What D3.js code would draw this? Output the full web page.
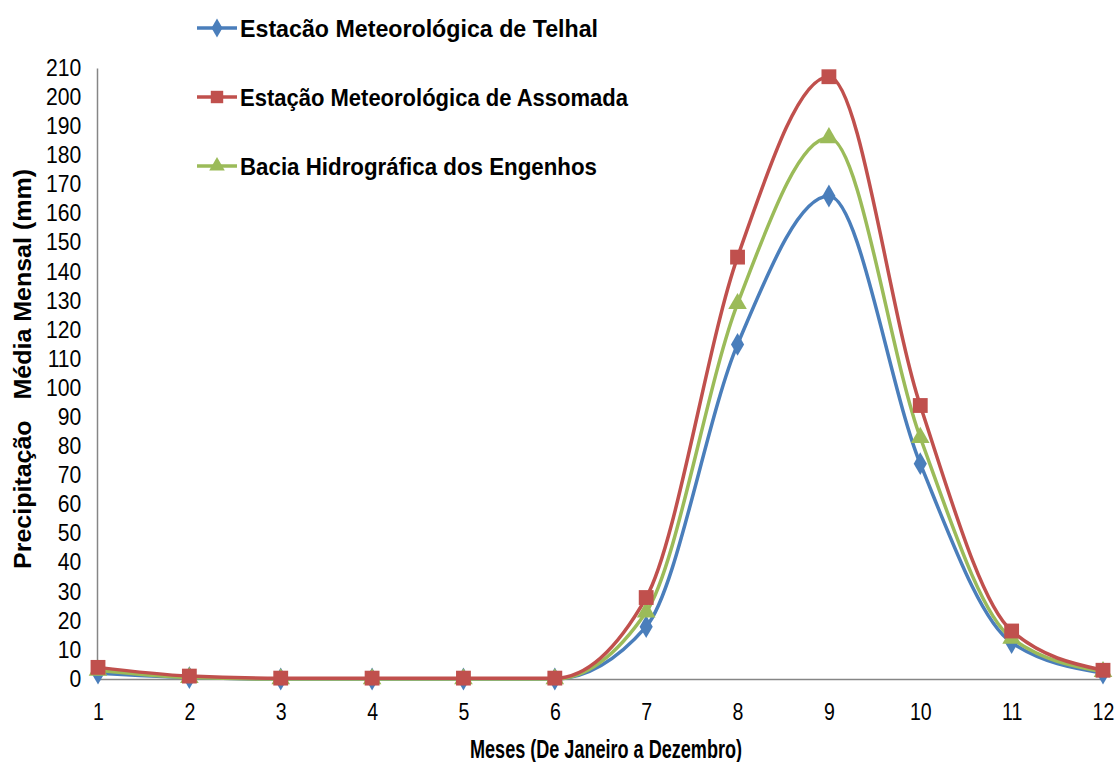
<!DOCTYPE html>
<html>
<head>
<meta charset="utf-8">
<script src="https://cdn.jsdelivr.net/npm/d3@7"></script>
<style>
  body { margin: 0; background: #fff; }
  text { font-family: "Liberation Sans", Arial, sans-serif; fill: #000; }
</style>
</head>
<body>
<div id="chart"></div>
<script>
// months 1..12
const months = [1, 2, 3, 4, 5, 6, 7, 8, 9, 10, 11, 12];

// monthly average precipitation (mm)
const telhal   = [2, 0.5, 0, 0, 0, 0, 18, 115, 166, 74, 12.5, 2];
const assomada = [4, 1, 0.3, 0.3, 0.3, 0.3, 28, 145, 207, 94, 16.5, 3];
const bacia    = [3, 0.5, 0, 0, 0, 0, 23, 129, 186, 83, 14, 2.5];

const seriesNames = [
    "Estacão Meteorológica de Telhal",
    "Estação Meteorológica de Assomada",
    "Bacia Hidrográfica dos Engenhos"
];
const seriesColors = ["#4A7EBB", "#C0504D", "#9BBB59"];
const yTicks = d3.range(0, 211, 10);

const xTitle = "Meses (De Janeiro a Dezembro)";
const yTitle = "Precipitação   Média Mensal (mm)";

const width = 1116, height = 762;

let svg = d3.select("#chart").append("svg")
    .attr("width", width)
    .attr("height", height);

let x = d3.scaleLinear()
    .domain([1, 12])
    .range([98, 1103]);

let y = d3.scaleLinear()
    .domain([0, 210])
    .range([679, 68]);

// axes
let yAxis = svg.append("g")
    .attr("transform", `translate(${x(1) - 1},0)`)
    .call(d3.axisLeft(y).tickValues(yTicks).tickSize(0).tickPadding(17));
yAxis.select(".domain").attr("stroke", "#868686").attr("stroke-width", 1.5);
yAxis.selectAll("text").style("font-size", "23px").attr("font-family", null)
    .attr("transform", "scale(0.92,1)");

let xAxis = svg.append("g")
    .attr("transform", `translate(0,${y(0)})`)
    .call(d3.axisBottom(x).tickValues(months).tickSize(0).tickPadding(25));
xAxis.select(".domain").attr("stroke", "#868686").attr("stroke-width", 1.5);
xAxis.selectAll("text").style("font-size", "23px").attr("font-family", null)
    .attr("textLength", function() { return this.getComputedTextLength() * 0.85; })
    .attr("lengthAdjust", "spacingAndGlyphs");

// axis titles
svg.append("text")
    .attr("x", 606)
    .attr("y", 758)
    .attr("text-anchor", "middle")
    .attr("textLength", 272)
    .attr("lengthAdjust", "spacingAndGlyphs")
    .style("font-size", "25px")
    .style("font-weight", "bold")
    .text(xTitle);

svg.append("text")
    .attr("transform", "translate(31,369) rotate(-90)")
    .attr("text-anchor", "middle")
    .attr("textLength", 400)
    .attr("lengthAdjust", "spacingAndGlyphs")
    .style("font-size", "23px")
    .style("font-weight", "bold")
    .style("white-space", "pre")
    .text(yTitle);

// series
const allSeries = [telhal, assomada, bacia];
const symbols = [d3.symbolDiamond, d3.symbolSquare, d3.symbolTriangle];
const symbolSizes = [150, 220, 150];

let line = d3.line()
    .x((d, i) => x(months[i]))
    .y(d => y(d))
    .curve(d3.curveMonotoneX);

// draw in the order telhal, bacia, assomada so red sits on top like the picture
[0, 2, 1].forEach(k => {
    svg.append("path")
        .datum(allSeries[k])
        .attr("d", line)
        .attr("fill", "none")
        .attr("stroke", seriesColors[k])
        .attr("stroke-width", 3.5);
});
[0, 2, 1].forEach(k => {
    svg.selectAll(".m" + k)
        .data(allSeries[k])
        .enter().append("path")
        .attr("class", "m" + k)
        .attr("transform", (d, i) => `translate(${x(months[i])},${y(d)})`)
        .attr("d", d3.symbol().type(symbols[k]).size(symbolSizes[k]))
        .attr("fill", seriesColors[k]);
});

// legend
const legendY = [28, 97, 166];
const legendWidths = [358, 388, 357];
seriesNames.forEach((name, k) => {
    let g = svg.append("g").attr("transform", `translate(197,${legendY[k]})`);
    g.append("line")
        .attr("x1", 0).attr("x2", 40)
        .attr("stroke", seriesColors[k])
        .attr("stroke-width", 3.5);
    g.append("path")
        .attr("transform", "translate(20,0)")
        .attr("d", d3.symbol().type(symbols[k]).size(symbolSizes[k] * 0.7))
        .attr("fill", seriesColors[k]);
    g.append("text")
        .attr("x", 43)
        .attr("dy", "0.36em")
        .attr("textLength", legendWidths[k])
        .attr("lengthAdjust", "spacingAndGlyphs")
        .style("font-size", "24px")
        .style("font-weight", "bold")
        .text(name);
});
</script>
</body>
</html>
